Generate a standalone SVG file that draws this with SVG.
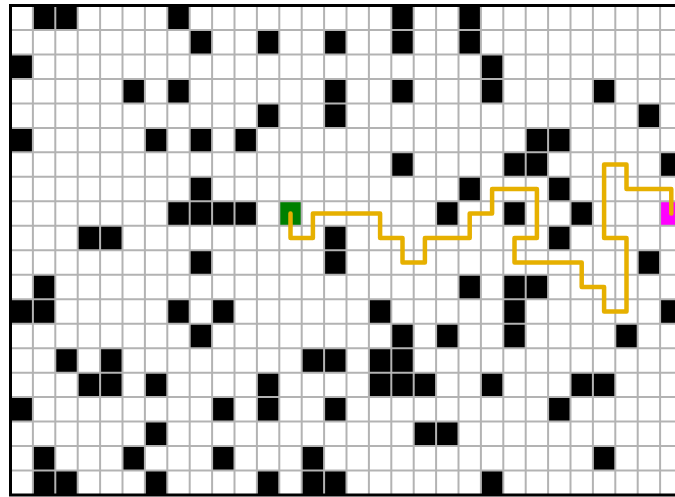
<svg xmlns="http://www.w3.org/2000/svg" width="675" height="497" viewBox="0 0 675 497">
<style>
.blk{fill:#000}
.grid{stroke:#b3b3b3;stroke-width:2;fill:none}
.route{stroke:#e6b000;stroke-width:4.5;fill:none;stroke-linejoin:round;stroke-linecap:round}
.frame{stroke:#000;stroke-width:3;fill:none}
</style>
<rect x="0" y="0" width="675" height="497" fill="#fff"/>
<g id="cells" transform="matrix(22.4 0 0 24.475 10.5 5.5)">
<g id="obstacles" class="blk">
<rect x="1" y="0" width="1" height="1"/><rect x="2" y="0" width="1" height="1"/><rect x="7" y="0" width="1" height="1"/><rect x="17" y="0" width="1" height="1"/><rect x="20" y="0" width="1" height="1"/>
<rect x="8" y="1" width="1" height="1"/><rect x="11" y="1" width="1" height="1"/><rect x="14" y="1" width="1" height="1"/><rect x="17" y="1" width="1" height="1"/><rect x="20" y="1" width="1" height="1"/>
<rect x="0" y="2" width="1" height="1"/><rect x="21" y="2" width="1" height="1"/>
<rect x="5" y="3" width="1" height="1"/><rect x="7" y="3" width="1" height="1"/><rect x="14" y="3" width="1" height="1"/><rect x="17" y="3" width="1" height="1"/><rect x="21" y="3" width="1" height="1"/><rect x="26" y="3" width="1" height="1"/>
<rect x="11" y="4" width="1" height="1"/><rect x="14" y="4" width="1" height="1"/><rect x="28" y="4" width="1" height="1"/>
<rect x="0" y="5" width="1" height="1"/><rect x="6" y="5" width="1" height="1"/><rect x="8" y="5" width="1" height="1"/><rect x="10" y="5" width="1" height="1"/><rect x="23" y="5" width="1" height="1"/><rect x="24" y="5" width="1" height="1"/>
<rect x="17" y="6" width="1" height="1"/><rect x="22" y="6" width="1" height="1"/><rect x="23" y="6" width="1" height="1"/><rect x="29" y="6" width="1" height="1"/>
<rect x="8" y="7" width="1" height="1"/><rect x="20" y="7" width="1" height="1"/><rect x="24" y="7" width="1" height="1"/>
<rect x="7" y="8" width="1" height="1"/><rect x="8" y="8" width="1" height="1"/><rect x="9" y="8" width="1" height="1"/><rect x="10" y="8" width="1" height="1"/><rect x="19" y="8" width="1" height="1"/><rect x="22" y="8" width="1" height="1"/><rect x="25" y="8" width="1" height="1"/>
<rect x="3" y="9" width="1" height="1"/><rect x="4" y="9" width="1" height="1"/><rect x="14" y="9" width="1" height="1"/><rect x="24" y="9" width="1" height="1"/>
<rect x="8" y="10" width="1" height="1"/><rect x="14" y="10" width="1" height="1"/><rect x="28" y="10" width="1" height="1"/>
<rect x="1" y="11" width="1" height="1"/><rect x="20" y="11" width="1" height="1"/><rect x="22" y="11" width="1" height="1"/><rect x="23" y="11" width="1" height="1"/>
<rect x="0" y="12" width="1" height="1"/><rect x="1" y="12" width="1" height="1"/><rect x="7" y="12" width="1" height="1"/><rect x="9" y="12" width="1" height="1"/><rect x="16" y="12" width="1" height="1"/><rect x="22" y="12" width="1" height="1"/><rect x="29" y="12" width="1" height="1"/>
<rect x="8" y="13" width="1" height="1"/><rect x="17" y="13" width="1" height="1"/><rect x="19" y="13" width="1" height="1"/><rect x="22" y="13" width="1" height="1"/><rect x="27" y="13" width="1" height="1"/>
<rect x="2" y="14" width="1" height="1"/><rect x="4" y="14" width="1" height="1"/><rect x="13" y="14" width="1" height="1"/><rect x="14" y="14" width="1" height="1"/><rect x="16" y="14" width="1" height="1"/><rect x="17" y="14" width="1" height="1"/>
<rect x="3" y="15" width="1" height="1"/><rect x="4" y="15" width="1" height="1"/><rect x="6" y="15" width="1" height="1"/><rect x="11" y="15" width="1" height="1"/><rect x="16" y="15" width="1" height="1"/><rect x="17" y="15" width="1" height="1"/><rect x="18" y="15" width="1" height="1"/><rect x="21" y="15" width="1" height="1"/><rect x="25" y="15" width="1" height="1"/><rect x="26" y="15" width="1" height="1"/>
<rect x="0" y="16" width="1" height="1"/><rect x="9" y="16" width="1" height="1"/><rect x="11" y="16" width="1" height="1"/><rect x="14" y="16" width="1" height="1"/><rect x="24" y="16" width="1" height="1"/>
<rect x="6" y="17" width="1" height="1"/><rect x="18" y="17" width="1" height="1"/><rect x="19" y="17" width="1" height="1"/>
<rect x="1" y="18" width="1" height="1"/><rect x="5" y="18" width="1" height="1"/><rect x="9" y="18" width="1" height="1"/><rect x="13" y="18" width="1" height="1"/><rect x="26" y="18" width="1" height="1"/>
<rect x="1" y="19" width="1" height="1"/><rect x="2" y="19" width="1" height="1"/><rect x="6" y="19" width="1" height="1"/><rect x="11" y="19" width="1" height="1"/><rect x="13" y="19" width="1" height="1"/><rect x="14" y="19" width="1" height="1"/><rect x="21" y="19" width="1" height="1"/>
</g>
<g id="start"><rect x="12" y="8" width="1" height="1" fill="#008000"/></g>
<g id="goal"><rect x="29" y="8" width="1" height="1" fill="#ff00ff"/></g>
</g>
<g id="gridlines" class="grid">
<path d="M32.9,5.5V495M55.3,5.5V495M77.7,5.5V495M100.1,5.5V495M122.5,5.5V495M144.9,5.5V495M167.3,5.5V495M189.7,5.5V495M212.1,5.5V495M234.5,5.5V495M256.9,5.5V495M279.3,5.5V495M301.7,5.5V495M324.1,5.5V495M346.5,5.5V495M368.9,5.5V495M391.3,5.5V495M413.7,5.5V495M436.1,5.5V495M458.5,5.5V495M480.9,5.5V495M503.3,5.5V495M525.7,5.5V495M548.1,5.5V495M570.5,5.5V495M592.9,5.5V495M615.3,5.5V495M637.7,5.5V495M660.1,5.5V495"/>
<path d="M10.5,29.98H682.5M10.5,54.45H682.5M10.5,78.93H682.5M10.5,103.4H682.5M10.5,127.88H682.5M10.5,152.35H682.5M10.5,176.83H682.5M10.5,201.3H682.5M10.5,225.78H682.5M10.5,250.25H682.5M10.5,274.73H682.5M10.5,299.2H682.5M10.5,323.68H682.5M10.5,348.15H682.5M10.5,372.63H682.5M10.5,397.1H682.5M10.5,421.58H682.5M10.5,446.05H682.5M10.5,470.53H682.5"/>
</g>
<g id="connectors">
<polyline class="route" points="290.5,213.54 290.5,238.01 312.9,238.01 312.9,213.54 380.1,213.54 380.1,238.01 402.5,238.01 402.5,262.49 424.9,262.49 424.9,238.01 469.7,238.01 469.7,213.54 492.1,213.54 492.1,189.07 536.9,189.07 536.9,238.01 514.5,238.01 514.5,262.49 581.7,262.49 581.7,286.96 604.1,286.96 604.1,311.44 626.5,311.44 626.5,238.01 604.1,238.01 604.1,164.59 626.5,164.59 626.5,189.07 671.3,189.07 671.3,213.54"/>
</g>
<path class="frame" d="M690,5.5H10.5V495H690"/>
</svg>
